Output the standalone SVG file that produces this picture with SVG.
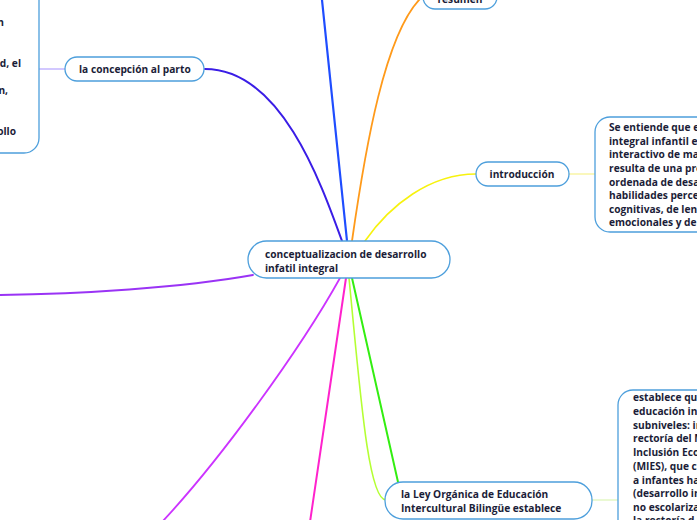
<svg xmlns="http://www.w3.org/2000/svg" width="697" height="520" viewBox="0 0 697 520">
<style>
.node{fill:#ffffff;stroke:#4d9fdc;stroke-width:1.3}
.t{font-family:"Open Sans","Noto Sans","DejaVu Sans",sans-serif;font-weight:bold;font-size:10.2px;fill:#1b1d38}
.c{fill:none;stroke-linecap:round}
</style>
<rect width="697" height="520" fill="#ffffff"/>
<g id="connectors">
  <path class="c" d="M342,241 C320,180 280,69 205,69" stroke="#3a1de6" stroke-width="2"/>
  <path class="c" d="M347,241 L322,0" stroke="#1f4dff" stroke-width="2.2"/>
  <path class="c" d="M352,241 C365,150 385,30 423,-4" stroke="#ff9a1a" stroke-width="1.8"/>
  <path class="c" d="M365,241 C390,205 430,174 476,174" stroke="#f7f20e" stroke-width="1.6"/>
  <path class="c" d="M253,275 C180,288 80,294 0,295" stroke="#9a33f5" stroke-width="1.8"/>
  <path class="c" d="M340,278 C300,350 220,460 162,522" stroke="#cc33ff" stroke-width="1.8"/>
  <path class="c" d="M346,278 L310,522" stroke="#ff22cc" stroke-width="2"/>
  <path class="c" d="M349,278 C360,390 368,500 386,500" stroke="#b4ff33" stroke-width="1.6"/>
  <path class="c" d="M352,278 L398,482" stroke="#33ee11" stroke-width="2"/>
  <path class="c" d="M39,69 L65,69" stroke="#c3b6ff" stroke-width="1.4"/>
  <path class="c" d="M569,174 L595,174" stroke="#f5f07a" stroke-width="1.2"/>
  <path class="c" d="M592,500 L618,500" stroke="#d6f3a8" stroke-width="1.2"/>
</g>
<g id="node-center">
  <rect class="node" x="248" y="241" width="202" height="37" rx="18.5"/>
  <text class="t" x="265" y="258">conceptualizacion de desarrollo</text>
  <text class="t" x="265" y="272">infatil integral</text>
</g>
<g id="node-concepcion">
  <rect class="node" x="65" y="57" width="139" height="24" rx="12"/>
  <text class="t" x="79" y="73">la concepción al parto</text>
</g>
<g id="node-concepcion-detail">
  <rect class="node" x="-40" y="-20" width="79" height="173" rx="15"/>
  <text class="t" x="4" y="26" text-anchor="end">n</text>
  <text class="t" x="21" y="67" text-anchor="end">d, el</text>
  <text class="t" x="8" y="94" text-anchor="end">n,</text>
  <text class="t" x="16" y="135" text-anchor="end">ollo</text>
</g>
<g id="node-resumen">
  <rect class="node" x="423" y="-20" width="74" height="29" rx="12"/>
  <text class="t" x="460" y="3" text-anchor="middle">resumen</text>
</g>
<g id="node-introduccion">
  <rect class="node" x="476" y="162" width="93" height="24" rx="12"/>
  <text class="t" x="522" y="178" text-anchor="middle">introducción</text>
</g>
<g id="node-introduccion-detail">
  <rect class="node" x="595" y="117" width="140" height="115" rx="15"/>
  <text class="t" x="609" y="131">Se entiende que e</text>
  <text class="t" x="609" y="145">integral infantil e</text>
  <text class="t" x="609" y="158">interactivo de ma</text>
  <text class="t" x="609" y="172">resulta de una pro</text>
  <text class="t" x="609" y="186">ordenada de desa</text>
  <text class="t" x="609" y="199">habilidades perce</text>
  <text class="t" x="609" y="213">cognitivas, de len</text>
  <text class="t" x="609" y="226">emocionales y de</text>
</g>
<g id="node-ley">
  <rect class="node" x="385" y="482" width="207" height="37" rx="18"/>
  <text class="t" x="401" y="498">la Ley Orgánica de Educación</text>
  <text class="t" x="401" y="512">Intercultural Bilingüe establece</text>
</g>
<g id="node-ley-detail">
  <rect class="node" x="618" y="390" width="120" height="160" rx="15"/>
  <text class="t" x="633" y="401">establece qu</text>
  <text class="t" x="633" y="415">educación in</text>
  <text class="t" x="633" y="429">subniveles: in</text>
  <text class="t" x="633" y="442">rectoría del M</text>
  <text class="t" x="633" y="456">Inclusión Eco</text>
  <text class="t" x="633" y="470">(MIES), que c</text>
  <text class="t" x="633" y="484">a infantes ha</text>
  <text class="t" x="633" y="497">(desarrollo in</text>
  <text class="t" x="633" y="511">no escolariza</text>
  <text class="t" x="633" y="524">la rectoría d</text>
</g>
</svg>
